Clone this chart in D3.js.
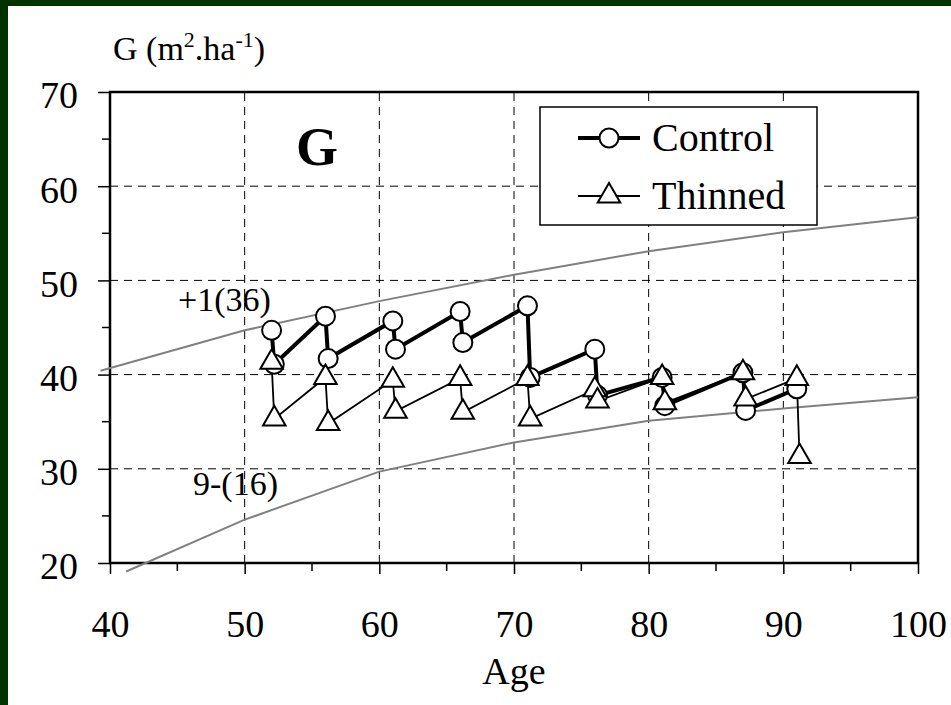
<!DOCTYPE html>
<meta charset="utf-8">
<script src="https://d3js.org/d3.v7.min.js"></script>
<style>
  body { margin: 0; background: #013301; }
  svg text { font-family: "Times New Roman", "Liberation Serif", Times, "DejaVu Serif", serif; fill: #000; }
</style>
<div id="chart"></div>
<script>
// Control stand (circles): before / after each measurement
const controlAge = [52, 52.2, 56, 56.2, 61, 61.2, 66, 66.2, 71, 71.2, 76, 76.2, 81, 81.2, 87, 87.2, 91];
const controlG = [44.7, 41.1, 46.2, 41.7, 45.7, 42.7, 46.7, 43.4, 47.3, 39.7, 42.7, 37.8, 39.7, 36.7, 40.2, 36.2, 38.5];

// Thinned stand (triangles): before / after thinning
const thinnedAge = [52, 52.2, 56, 56.2, 61, 61.2, 66, 66.2, 71, 71.2, 76, 76.2, 81, 81.2, 87, 87.2, 91, 91.2];
const thinnedG = [41.3, 35.3, 39.7, 34.8, 39.4, 36.1, 39.6, 36.0, 39.6, 35.3, 38.4, 37.2, 39.7, 37.0, 40.2, 37.4, 39.6, 31.3];

// reference curves
const upperAge = [39.3, 50, 60, 70, 80, 90, 100];
const upperG = [40.4, 44.7, 47.8, 50.6, 53.1, 55.1, 56.7];
const lowerAge = [41.2, 50, 60, 70, 80, 90, 100];
const lowerG = [19.1, 24.6, 29.7, 32.8, 35.1, 36.4, 37.6];

const xTicks = [40, 50, 60, 70, 80, 90, 100];
const yTicks = [20, 30, 40, 50, 60, 70];

const W = 951, H = 705;
const margin = { top: 92, right: 33, bottom: 142, left: 110 };

const svg = d3.select("#chart").append("svg")
  .attr("width", W).attr("height", H);

// dark green frame, white page
svg.append("rect").attr("x", 8).attr("y", 6).attr("width", W - 8).attr("height", H - 6).attr("fill", "#fff");

const x = d3.scaleLinear().domain([40, 100]).range([margin.left, W - margin.right]);
const y = d3.scaleLinear().domain([20, 70]).range([H - margin.bottom, margin.top]);

// grid
const grid = svg.append("g").attr("stroke", "#000").attr("stroke-width", 1).attr("stroke-dasharray", "8,6");
grid.selectAll(".gx").data(xTicks.slice(1, -1)).join("line")
  .attr("x1", d => x(d)).attr("x2", d => x(d))
  .attr("y1", y(20)).attr("y2", y(70));
grid.selectAll(".gy").data(yTicks.slice(1, -1)).join("line")
  .attr("x1", x(40)).attr("x2", x(100))
  .attr("y1", d => y(d)).attr("y2", d => y(d));

// minor ticks
svg.append("g").attr("stroke", "#000").attr("stroke-width", 1.5)
  .selectAll("line").data(d3.range(45, 100, 10)).join("line")
  .attr("x1", d => x(d)).attr("x2", d => x(d)).attr("y1", y(20)).attr("y2", y(20) + 8);
svg.append("g").attr("stroke", "#000").attr("stroke-width", 1.5)
  .selectAll("line").data(d3.range(25, 70, 10)).join("line")
  .attr("y1", d => y(d)).attr("y2", d => y(d)).attr("x1", x(40)).attr("x2", x(40) - 8);

// axes
const xAxis = svg.append("g").attr("transform", `translate(0,${y(20)})`)
  .call(d3.axisBottom(x).tickValues(xTicks).tickSize(11).tickPadding(36));
const yAxis = svg.append("g").attr("transform", `translate(${x(40)},0)`)
  .call(d3.axisLeft(y).tickValues(yTicks).tickSize(12).tickPadding(20));
[xAxis, yAxis].forEach(a => {
  a.attr("font-family", null);
  a.select(".domain").remove();
  a.selectAll("line").attr("stroke-width", 1.5);
  a.selectAll("text").attr("font-size", 38);
});
yAxis.selectAll("text").attr("dy", "0.42em");

// plot frame
svg.append("rect").attr("x", x(40)).attr("y", y(70))
  .attr("width", x(100) - x(40)).attr("height", y(20) - y(70))
  .attr("fill", "none").attr("stroke", "#000").attr("stroke-width", 2.5);

// reference curves
const line = d3.line().x(d => x(d[0])).y(d => y(d[1]));
svg.append("path").datum(d3.zip(upperAge, upperG)).attr("d", line)
  .attr("fill", "none").attr("stroke", "#808080").attr("stroke-width", 2);
svg.append("path").datum(d3.zip(lowerAge, lowerG)).attr("d", line)
  .attr("fill", "none").attr("stroke", "#808080").attr("stroke-width", 2);

svg.append("text").attr("x", 178).attr("y", 311).attr("font-size", 34).text("+1(36)");
svg.append("text").attr("x", 193).attr("y", 495).attr("font-size", 34).text("9-(16)");

// series
const control = d3.zip(controlAge, controlG);
const thinned = d3.zip(thinnedAge, thinnedG);
const tri = d3.symbol(d3.symbolTriangle, 220);

svg.append("path").datum(thinned).attr("d", line)
  .attr("fill", "none").attr("stroke", "#000").attr("stroke-width", 1.8);
svg.append("path").datum(control).attr("d", line)
  .attr("fill", "none").attr("stroke", "#000").attr("stroke-width", 4);

svg.append("g").selectAll("circle").data(control).join("circle")
  .attr("cx", d => x(d[0])).attr("cy", d => y(d[1])).attr("r", 9.5)
  .attr("fill", "#fff").attr("stroke", "#000").attr("stroke-width", 2);
svg.append("g").selectAll("path").data(thinned).join("path")
  .attr("d", tri).attr("transform", d => `translate(${x(d[0])},${y(d[1])})`)
  .attr("fill", "#fff").attr("stroke", "#000").attr("stroke-width", 2);

// labels
svg.append("text").attr("x", 113).attr("y", 60).attr("font-size", 34)
  .html('G (m<tspan dy="-13" font-size="22">2</tspan><tspan dy="13">.ha</tspan><tspan dy="-13" font-size="22">-1</tspan><tspan dy="13">)</tspan>');
svg.append("text").attr("x", 296).attr("y", 165).attr("font-size", 54).attr("font-weight", "bold").text("G");
svg.append("text").attr("x", x(70)).attr("y", 684).attr("text-anchor", "middle").attr("font-size", 38).text("Age");

// legend
const lg = svg.append("g");
lg.append("rect").attr("x", 540).attr("y", 107).attr("width", 277).attr("height", 118)
  .attr("fill", "#fff").attr("stroke", "#000").attr("stroke-width", 1.5);
lg.append("line").attr("x1", 578).attr("x2", 640).attr("y1", 138).attr("y2", 138)
  .attr("stroke", "#000").attr("stroke-width", 4);
lg.append("circle").attr("cx", 609).attr("cy", 138).attr("r", 9.5)
  .attr("fill", "#fff").attr("stroke", "#000").attr("stroke-width", 2);
lg.append("line").attr("x1", 578).attr("x2", 640).attr("y1", 196).attr("y2", 196)
  .attr("stroke", "#000").attr("stroke-width", 1.8);
lg.append("path").attr("d", tri).attr("transform", "translate(609,196)")
  .attr("fill", "#fff").attr("stroke", "#000").attr("stroke-width", 2);
lg.append("text").attr("x", 652).attr("y", 151).attr("font-size", 40).text("Control");
lg.append("text").attr("x", 652).attr("y", 209).attr("font-size", 40).text("Thinned");
</script>
